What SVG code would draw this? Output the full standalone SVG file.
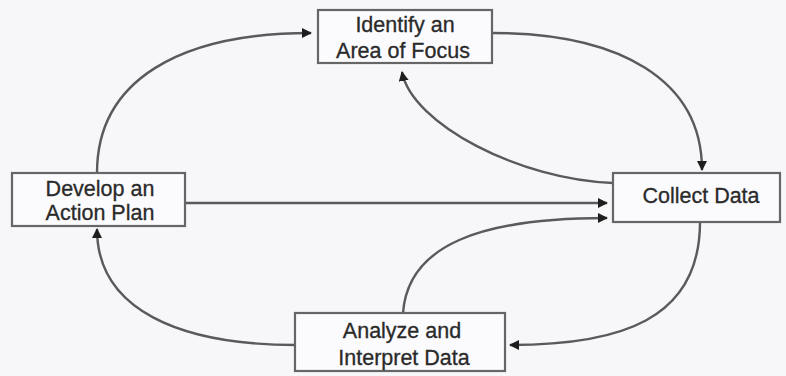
<svg xmlns="http://www.w3.org/2000/svg" width="786" height="376" viewBox="0 0 786 376">
  <style>
    .box { fill: #fbfbfd; stroke: #666; stroke-width: 2.2; }
    .label { font-family: "Liberation Sans", Arial, sans-serif; font-size: 21.5px; fill: #2a2a2a; stroke: #2a2a2a; stroke-width: 0.3; text-anchor: middle; }
    .link { fill: none; stroke: #5a5a5a; stroke-width: 2.4; marker-end: url(#head); }
  </style>
  <defs>
    <marker id="head" viewBox="0 0 10 10" refX="9" refY="5" markerWidth="10" markerHeight="10" markerUnits="userSpaceOnUse" orient="auto">
      <path d="M0,0 L10,5 L0,10 z" fill="#1e1e1e"/>
    </marker>
  </defs>

  <rect width="786" height="376" fill="#f7f7fa"/>

  <g id="connectors">
    <!-- Develop → Identify -->
    <path class="link" d="M97,173 C97,80 180,33 311,33"/>
    <!-- Identify → Collect -->
    <path class="link" d="M492,33 C620,33 702,80 702,170"/>
    <!-- Collect → Identify -->
    <path class="link" d="M613,183 C520,180 412,124 402,72"/>
    <!-- Develop → Collect -->
    <path class="link" d="M185,203 L607,203"/>
    <!-- Analyze → Collect -->
    <path class="link" d="M403,313 C408,245 480,218 607,218"/>
    <!-- Collect → Analyze -->
    <path class="link" d="M700,222 C700,320 620,345 510,345"/>
    <!-- Analyze → Develop -->
    <path class="link" d="M296,345 C180,345 97,310 97,229"/>
  </g>

  <g id="identify">
    <rect class="box" x="318" y="10" width="174" height="53"/>
    <text class="label" x="405" y="32">Identify an</text>
    <text class="label" x="403" y="58">Area of Focus</text>
  </g>

  <g id="develop">
    <rect class="box" x="12" y="173" width="173" height="53"/>
    <text class="label" x="100" y="196">Develop an</text>
    <text class="label" x="100" y="220">Action Plan</text>
  </g>

  <g id="collect">
    <rect class="box" x="613" y="173" width="167" height="49"/>
    <text class="label" x="701" y="203">Collect Data</text>
  </g>

  <g id="analyze">
    <rect class="box" x="295" y="313" width="210" height="58"/>
    <text class="label" x="402" y="338">Analyze and</text>
    <text class="label" x="404" y="365">Interpret Data</text>
  </g>
</svg>
